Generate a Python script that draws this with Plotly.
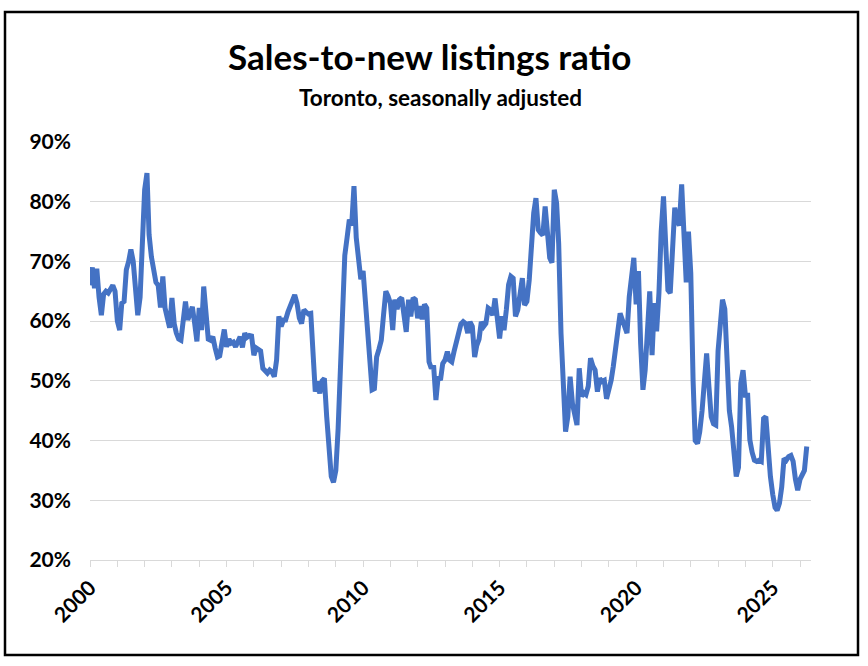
import pandas as pd
import plotly.graph_objects as go

# Monthly sales-to-new listings ratio (%), Toronto, seasonally adjusted, Jan 2000 onward
y2000 = [66, 69, 65.5, 68.8, 64, 61, 64.5, 65, 64.7, 65.3, 66, 65]
y2001 = [60, 58.5, 63, 63.3, 68.6, 70, 72, 70, 65, 61, 64, 72]
y2002 = [82, 84.8, 74.5, 70.8, 68.5, 66.5, 66, 62.3, 67.5, 62.2, 60.5, 58.9]
y2003 = [63.9, 59.5, 58, 57, 56.8, 59.5, 63.3, 60.2, 61.5, 62.4, 59.6, 56.6]
y2004 = [62.2, 58.5, 65.8, 62, 57, 56.8, 57.4, 55.5, 54, 54.2, 56, 58.6]
y2005 = [55.7, 57, 56.3, 56.5, 55.7, 56.8, 57.4, 55.6, 58, 57.3, 57.6, 57.5]
y2006 = [54.3, 55.5, 55.3, 55, 52.1, 51.7, 51.3, 51.8, 51.5, 50.7, 53.5, 60.8]
y2007 = [59.1, 60.2, 60.2, 61.5, 62.4, 63.5, 64.4, 63, 60.5, 59.6, 61.9, 61.5]
y2008 = [61.2, 61.3, 54.6, 48.2, 49.9, 47.9, 50, 50.4, 44, 37.5, 34, 33]
y2009 = [35, 42, 52, 63, 71, 74, 77, 76, 82.6, 74, 70, 67]
y2010 = [68.4, 63, 58, 52, 48.5, 48.7, 54, 55.3, 56.8, 61, 65, 64.2]
y2011 = [63, 58.5, 63.6, 62, 63.6, 63.9, 61, 58.2, 63.6, 60.8, 63.9, 63.6]
y2012 = [60.5, 62.5, 60.3, 62.8, 62.2, 53.2, 52.1, 52.6, 46.8, 50.7, 50.1, 52.9]
y2013 = [53.5, 54.9, 53.5, 53.2, 54.9, 56.5, 58, 59.5, 59.9, 59.6, 58, 59.9]
y2014 = [59.1, 54, 55.9, 57, 59.9, 59.1, 59.6, 62.2, 61.9, 61, 63.8, 60.5]
y2015 = [57.1, 60.8, 58.5, 61.9, 66.1, 67.5, 67.2, 60.8, 61.9, 64.5, 67.2, 62.7]
y2016 = [63.3, 66.9, 72.5, 78.1, 80.6, 75.3, 74.8, 74.4, 79.2, 74.1, 70.6, 69.8]
y2017 = [82, 79.8, 73, 58, 47, 41.5, 44, 50.7, 46.2, 44, 42.6, 52.1]
y2018 = [47.4, 48, 47.7, 49.1, 53.8, 52.5, 51.8, 48.2, 50.4, 49.9, 50.1, 47]
y2019 = [48.5, 50.1, 52.4, 55, 58.5, 61.3, 60.2, 59, 58, 64.1, 68.6, 70.6]
y2020 = [62.8, 68.4, 56.3, 48.5, 51.8, 57.1, 65, 54.3, 63, 58.3, 64.7, 75]
y2021 = [80.9, 72.5, 65.2, 64.7, 71.9, 79, 77, 76, 82.9, 76.4, 66.5, 75]
y2022 = [68, 50, 40, 39.5, 41.5, 45, 49, 54.6, 49, 44, 42.8, 42.6]
y2023 = [55, 60.5, 63.6, 62, 53, 45, 42.3, 38, 34, 35.5, 49.6, 51.8]
y2024 = [47.6, 47.6, 40.1, 38, 36.7, 36.5, 36.7, 36.5, 43.7, 44, 38.1, 34]
y2025 = [31, 28.8, 28.3, 29.5, 32.2, 37, 36.7, 37.3, 37.5, 36.5, 33.5, 31.7]
y2026 = [33.5, 34.2, 35, 39]

ratio = (y2000 + y2001 + y2002 + y2003 + y2004 + y2005 + y2006 + y2007 + y2008
         + y2009 + y2010 + y2011 + y2012 + y2013 + y2014 + y2015 + y2016 + y2017
         + y2018 + y2019 + y2020 + y2021 + y2022 + y2023 + y2024 + y2025 + y2026)
months = pd.date_range("2000-01-01", periods=len(ratio), freq="MS")

title_text = "Sales-to-new listings ratio"
subtitle_text = "Toronto, seasonally adjusted"
FONT = "Lato, 'Open Sans', sans-serif"
GRID = "#d9d9d9"

fig = go.Figure()
fig.add_trace(go.Scatter(
    x=months, y=ratio, mode="lines",
    line=dict(color="#4472C4", width=5),
    hoverinfo="skip", showlegend=False,
))

fig.update_layout(
    width=868, height=666,
    margin=dict(l=90, r=57, t=142, b=106),
    paper_bgcolor="white", plot_bgcolor="white",
    font=dict(family=FONT, color="black"),
    title=dict(
        text=title_text, x=0.495, xref="container", xanchor="center",
        y=1 - 58 / 666, yref="container", yanchor="middle",
        font=dict(family=FONT, size=35, color="black", weight="bold"),
    ),
    annotations=[dict(
        text=subtitle_text, xref="paper", yref="paper",
        x=(440 - 90) / 721, y=(560 - 97) / 418,
        xanchor="center", yanchor="middle", showarrow=False,
        font=dict(family=FONT, size=22.5, color="black", weight="bold"),
    )],
    shapes=[dict(
        type="rect", xref="paper", yref="paper",
        x0=(5 - 90) / 721, x1=(858 - 90) / 721,
        y0=(560 - 655) / 418, y1=(560 - 12) / 418,
        line=dict(color="black", width=2.5), fillcolor="rgba(0,0,0,0)",
        layer="below",
    )],
)

fig.update_xaxes(
    type="date",
    range=["2000-01-01", "2026-05-28"],
    tick0="2000-01-01", dtick="M60", tickformat="%Y", tickangle=-45,
    ticks="outside", ticklen=6, tickcolor=GRID, tickwidth=1.3,
    minor=dict(dtick="M12", tick0="2000-01-01", ticks="outside", ticklen=6,
               tickcolor=GRID, tickwidth=1.3, showgrid=False),
    showgrid=False, showline=True, linecolor=GRID, linewidth=1.3,
    zeroline=False,
    tickfont=dict(family=FONT, size=21, color="black", weight="bold"),
)

fig.update_yaxes(
    range=[20, 90], dtick=10, ticksuffix="%",
    showgrid=True, gridcolor=GRID, gridwidth=1.3,
    zeroline=False, showline=False, ticks="",
    ticklabelstandoff=18,
    tickfont=dict(family=FONT, size=21, color="black", weight="bold"),
)

fig.write_html("out.html")
